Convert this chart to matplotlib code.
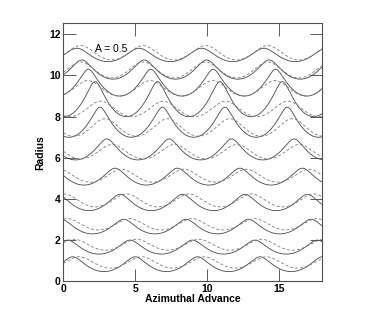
import numpy as np
import matplotlib
matplotlib.use('Agg')
import matplotlib.pyplot as plt

plt.rcParams['font.family'] = ['Liberation Sans', 'DejaVu Sans']

# values
period = 4.35
radii = [1, 2, 3, 4, 5, 6, 7, 8, 9, 10, 11]

# solid curves: first crest position, crest height, trough height, crest sharpness
solid_crest_x = [0.65, 0.30, 4.20, 3.95, 3.60, 3.02, 2.55, 2.21, 1.74, 1.28, 0.93]
solid_crest_y = [1.20, 2.01, 3.02, 4.23, 5.50, 6.92, 8.46, 9.70, 10.30, 10.75, 11.32]
solid_trough_y = [0.48, 1.33, 2.31, 3.44, 4.68, 5.90, 7.00, 8.00, 9.00, 9.82, 10.67]
solid_sharp = [0.35, 0.35, 0.35, 0.35, 0.35, 0.4, 0.45, 0.45, 0.45, 0.35, 0.25]

# dashed curves
dashed_crest_x = [1.10, 0.75, 4.62, 4.40, 4.05, 3.40, 2.90, 2.60, 1.70, 1.20, 1.20]
dashed_crest_y = [1.20, 2.05, 3.05, 4.25, 5.45, 6.65, 7.90, 8.75, 9.75, 10.65, 11.45]
dashed_trough_y = [0.65, 1.52, 2.50, 3.62, 4.82, 5.95, 7.05, 8.00, 9.00, 9.88, 10.75]
dashed_sharp = [0.15] * 11

xticks = [0, 5, 10, 15]
yticks = [0, 2, 4, 6, 8, 10, 12]


def wave(x0, top, bottom, sharp):
    t = np.linspace(-6 * np.pi, 12 * np.pi, 4000)
    x = x0 + period / (2 * np.pi) * (t - sharp * np.sin(t))
    y = (top + bottom) / 2 + (top - bottom) / 2 * np.cos(t)
    return x, y


fig = plt.figure(figsize=(3.73, 3.17), dpi=100)
ax = fig.add_axes([0.170, 0.112, 0.6925, 0.8145])

for i in range(len(radii)):
    x, y = wave(solid_crest_x[i], solid_crest_y[i], solid_trough_y[i], solid_sharp[i])
    ax.plot(x, y, color='#484848', lw=0.6)
    x, y = wave(dashed_crest_x[i], dashed_crest_y[i], dashed_trough_y[i], dashed_sharp[i])
    ax.plot(x, y, color='#7a7a7a', lw=0.6, dashes=(3.5, 2.5))

ax.set_xlim(0, 18)
ax.set_ylim(0, 12.53)
ax.set_xticks(xticks)
ax.set_yticks(yticks)
ax.tick_params(direction='in', length=9, width=0.6, top=True, right=True,
               labelsize=7.5, pad=2, colors='#404040', labelcolor='black')
for lab in ax.get_xticklabels() + ax.get_yticklabels():
    lab.set_fontweight('bold')
for s in ax.spines.values():
    s.set_linewidth(0.8)
    s.set_color('#505050')

ax.set_xlabel('Azimuthal Advance', fontsize=7.5, fontweight='bold', labelpad=0)
ax.set_ylabel('Radius', fontsize=7.5, fontweight='bold', labelpad=3)
ax.text(2.2, 11.3, 'A = 0.5', fontsize=7.5, va='center', ha='left')

fig.savefig('out.png', dpi=100)
